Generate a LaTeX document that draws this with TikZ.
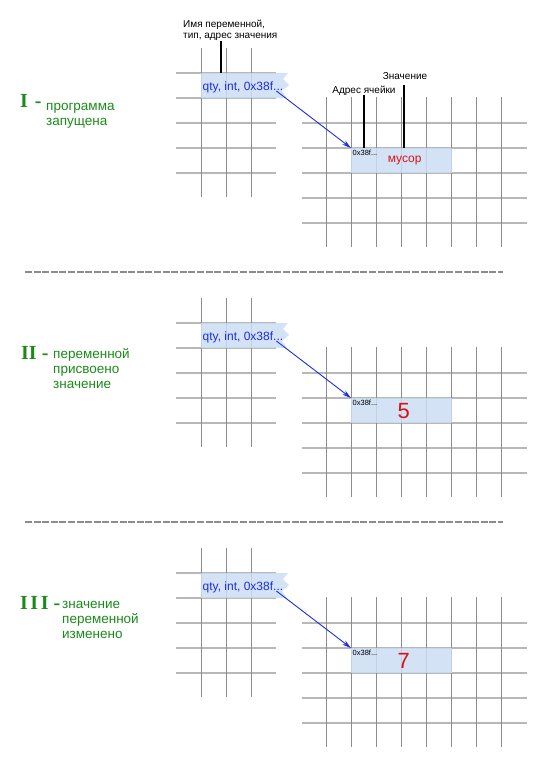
\documentclass[tikz,border=0pt]{standalone}
\usepackage{fontspec}
\setmainfont{Liberation Sans}
\newfontfamily\numfont{Liberation Serif}
\usetikzlibrary{arrows.meta,positioning,calc}
\definecolor{StageGreen}{HTML}{1A8A1A}
\definecolor{VarBlue}{HTML}{1C2EE0}
\definecolor{CellFill}{HTML}{CCDDF5}
\definecolor{GridDark}{HTML}{8C8C8C}
\definecolor{GridLight}{HTML}{B8B8B8}
\definecolor{TrashRed}{HTML}{DD1111}

\begin{document}
\begin{tikzpicture}[
x=1pt,y=-1pt,
hline/.style={GridLight,line width=1.8pt},
vline/.style={GridDark,line width=1pt},
sep/.style={GridDark,line width=1.8pt,dash pattern=on 7pt off 1.6pt},
numeral/.style={inner sep=0pt,anchor=base west,text=StageGreen,font=\numfont\bfseries\fontsize{20}{20}\selectfont},
stage/.style={inner sep=0pt,anchor=base west,align=left,text=StageGreen,font=\fontsize{13.5}{15}\selectfont},
vartext/.style={inner sep=0pt,anchor=base west,text=VarBlue,font=\fontsize{12}{14}\selectfont},
cell/.style={anchor=north west,fill=CellFill,fill opacity=.85,minimum width=101pt,minimum height=25pt,inner sep=0pt},
addr/.style={anchor=north west,inner sep=1.5pt,font=\fontsize{7.5}{8}\selectfont},
value/.style={text=TrashRed,inner sep=0pt},
note/.style={inner sep=0pt,align=left,font=\fontsize{10}{11}\selectfont},
tick/.style={black,line width=2pt},
ptr/.style={VarBlue,line width=0.9pt,-{Stealth[length=9pt,width=5pt]}}
]
\useasboundingbox (0,0) rectangle (547,768);

% grids and variable boxes, one set per stage
\foreach \dy in {0,250,500}{
  \foreach \y in {73,98,123,148,173} \draw[hline] (176,\y+\dy) -- (276,\y+\dy);
  \foreach \x in {201,226,251} \draw[vline] (\x,48+\dy) -- (\x,197+\dy);
  \foreach \y in {123,148,173,198,223} \draw[hline] (302,\y+\dy) -- (527,\y+\dy);
  \foreach \x in {326,351,...,501} \draw[vline] (\x,97+\dy) -- (\x,247+\dy);
  \fill[CellFill,fill opacity=.85] (201,73+\dy) -- (288,73+\dy) -- (283,79+\dy) -- (289,85+\dy)
    -- (282,91+\dy) -- (287,98+\dy) -- (201,98+\dy) -- cycle;
}

\draw[sep] (25,272) -- (503,272);
\draw[sep] (25,522) -- (503,522);

% stage I  (stage text is placed by the base of its last line)
\node[numeral] (n1) at (20,107) {I \kern2pt-};
\node[stage] (s1) at (46,125) {программа\\запущена};
\node[vartext] (v1) at (202.5,90) {qty, int, 0x38f...};
\node[cell] (c1) at (351,148) {};
\node[addr] (a1) at (c1.north west) {0x38f...};
\node[value,font=\fontsize{12}{14}\selectfont] (m1) at ([xshift=3pt]c1.center) {мусор};
\draw[ptr] ([xshift=-7pt,yshift=-1pt]v1.base east) -- (c1.north west);
\node[note,anchor=south west] (nm) at (183,41) {Имя переменной,\\тип, адрес значения};
\coordinate (nmtip) at (221,73);
\draw[tick] (nm.south -| nmtip) -- (nmtip);
\node[note,anchor=base] (adr) at (364,93) {Адрес ячейки};
\node[note,anchor=base] (val) at (405,80) {Значение};
\draw[tick] ([yshift=-2pt]adr.base -| 364,0) -- (c1.north -| 364,0);
\draw[tick] ([yshift=-5pt]val.base -| 404,0) -- (c1.north -| 404,0);

% stage II
\node[numeral] (n2) at (21,359) {II -};
\node[stage] (s2) at (53,388) {переменной\\присвоено\\значение};
\node[vartext] (v2) at (202.5,340) {qty, int, 0x38f...};
\node[cell] (c2) at (351,398) {};
\node[addr] (a2) at (c2.north west) {0x38f...};
\node[value,font=\fontsize{22}{24}\selectfont] (m2) at ([xshift=2pt]c2.center) {5};
\draw[ptr] ([xshift=-7pt,yshift=-1pt]v2.base east) -- (c2.north west);

% stage III
\node[numeral] (n3) at (20,609) {I\kern2.5pt I\kern2.5pt I -};
\node[stage] (s3) at (62,638) {значение\\переменной\\изменено};
\node[vartext] (v3) at (202.5,590) {qty, int, 0x38f...};
\node[cell] (c3) at (351,648) {};
\node[addr] (a3) at (c3.north west) {0x38f...};
\node[value,font=\fontsize{22}{24}\selectfont] (m3) at ([xshift=2pt]c3.center) {7};
\draw[ptr] ([xshift=-7pt,yshift=-1pt]v3.base east) -- (c3.north west);
\end{tikzpicture}
\end{document}
